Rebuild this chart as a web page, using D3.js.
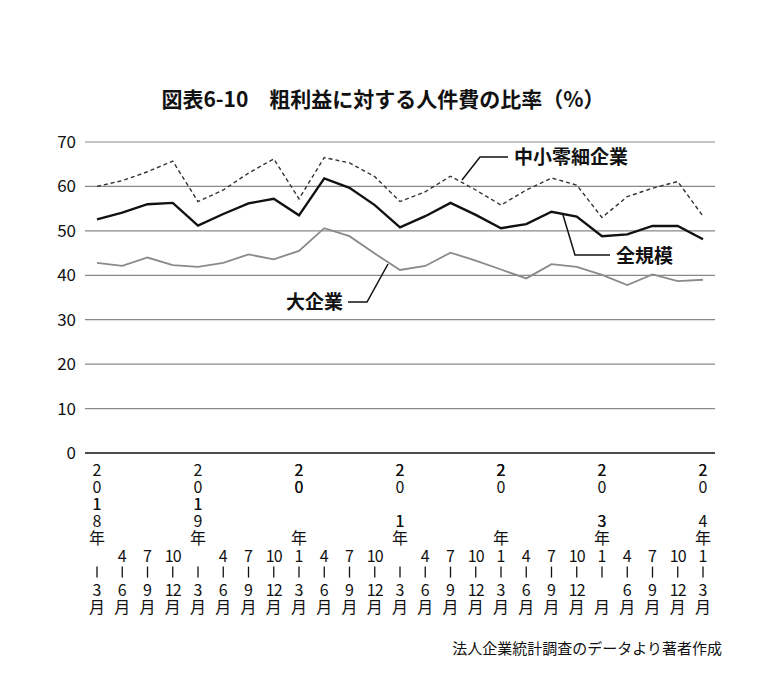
<!DOCTYPE html>
<html>
<head>
<meta charset="utf-8">
<script src="https://cdn.jsdelivr.net/npm/d3@7"></script>
<style>
  body { margin: 0; background: #fff; }
  text { font-family: "Noto Sans CJK JP", "Noto Sans", sans-serif; fill: #111; }
</style>
</head>
<body>
<div id="chart-area"></div>
<script>
// quarters: 2018 1-3月 ... 2024 1-3月
const years = [2018, 2019, 2020, 2021, 2022, 2023, 2024]
const quarters = [["1", "3"], ["4", "6"], ["7", "9"], ["10", "12"]]
const small = [60.0, 61.3, 63.3, 65.7, 56.6, 59.2, 63.0, 66.2, 57.2, 66.5, 65.3, 62.2, 56.6,
  58.8, 62.3, 59.2, 55.8, 59.2, 61.9, 60.3, 53.0, 57.7, 59.6, 61.1, 53.3]
const total = [52.6, 54.1, 56.0, 56.3, 51.2, 53.8, 56.2, 57.2, 53.5, 61.8, 59.7, 55.8, 50.8,
  53.3, 56.3, 53.6, 50.6, 51.5, 54.3, 53.2, 48.8, 49.2, 51.1, 51.1, 48.1]
const large = [42.8, 42.1, 44.0, 42.3, 41.9, 42.8, 44.7, 43.6, 45.5, 50.6, 48.8, 44.9, 41.2,
  42.1, 45.1, 43.3, 41.3, 39.3, 42.5, 41.9, 40.1, 37.8, 40.2, 38.7, 39.0]
const yTicks = [0, 10, 20, 30, 40, 50, 60, 70]

const periods = []
years.forEach((yr, i) => {
  quarters.forEach((q, j) => {
    if (i < years.length - 1 || j === 0) periods.push({ year: j === 0 ? yr : null, q: q, key: yr + "-" + j })
  })
})

const svg = d3.select("#chart-area").append("svg")
  .attr("width", 783)
  .attr("height", 689)

const x = d3.scalePoint()
  .domain(periods.map(d => d.key))
  .range([97, 703])

const y = d3.scaleLinear()
  .domain([0, 70])
  .range([453, 142])

// title
svg.append("text")
  .attr("x", 383).attr("y", 107)
  .attr("text-anchor", "middle")
  .attr("font-size", "21px").attr("font-weight", "bold")
  .text("図表6-10　粗利益に対する人件費の比率（%）")

// grid
svg.append("g").selectAll("line").data(yTicks).enter().append("line")
  .attr("x1", 85).attr("x2", 715)
  .attr("y1", d => y(d)).attr("y2", d => y(d))
  .attr("stroke", d => d === 0 ? "#111" : "#888")
  .attr("stroke-width", d => d === 0 ? 1.5 : 1.2)

svg.append("g").selectAll("text").data(yTicks).enter().append("text")
  .attr("x", 76).attr("y", d => y(d) + 6)
  .attr("text-anchor", "end")
  .attr("font-size", "17px")
  .text(d => d)

// x labels, written vertically; "~" drawn as a short vertical stroke
const rowH = 17.1
periods.forEach(p => {
  let chars = []
  let start = 470
  if (p.year) {
    chars = String(p.year).split("").concat(["年"])
  } else {
    start = 470 + rowH * 5
  }
  chars = chars.concat([p.q[0], "~", p.q[1], "月"])
  const gx = svg.append("g")
  gx.selectAll("text").data(chars.filter(c => c !== "~")).enter().append("text")
    .attr("x", x(p.key))
    .attr("y", d => start + chars.indexOf(d) * rowH + 6)
    .attr("text-anchor", "middle")
    .attr("font-size", "16px")
    .attr("letter-spacing", d => d.length > 1 ? "-1px" : null)
    .text(d => d)
  const di = chars.indexOf("~")
  gx.append("line")
    .attr("x1", x(p.key)).attr("x2", x(p.key))
    .attr("y1", start + di * rowH - 6).attr("y2", start + di * rowH + 5)
    .attr("stroke", "#111").attr("stroke-width", 1.3)
})

const line = d3.line()
  .x((d, i) => x(periods[i].key))
  .y(d => y(d))

svg.append("path").datum(large)
  .attr("d", line).attr("fill", "none")
  .attr("stroke", "#8a8a8a").attr("stroke-width", 1.8)

svg.append("path").datum(small)
  .attr("d", line).attr("fill", "none")
  .attr("stroke", "#333").attr("stroke-width", 1.4)
  .attr("stroke-dasharray", "4,3")

svg.append("path").datum(total)
  .attr("d", line).attr("fill", "none")
  .attr("stroke", "#111").attr("stroke-width", 2.4)

// series labels with leader lines
const leaders = [
  { text: "中小零細企業", tx: 514, ty: 164, anchor: "start", pts: [[508, 157], [480, 157], [462, 180]] },
  { text: "全規模", tx: 616, ty: 263, anchor: "start", pts: [[610, 255], [575, 255], [563, 215]] },
  { text: "大企業", tx: 343, ty: 309, anchor: "end", pts: [[348, 302], [367, 302], [388, 264]] }
]
leaders.forEach(l => {
  svg.append("path")
    .attr("d", d3.line()(l.pts))
    .attr("fill", "none").attr("stroke", "#111").attr("stroke-width", 1.5)
  svg.append("text")
    .attr("x", l.tx).attr("y", l.ty)
    .attr("text-anchor", l.anchor)
    .attr("font-size", "19px").attr("font-weight", "bold")
    .text(l.text)
})

// source
svg.append("text")
  .attr("x", 722).attr("y", 654)
  .attr("text-anchor", "end")
  .attr("font-size", "15px")
  .text("法人企業統計調査のデータより著者作成")
</script>
</body>
</html>
